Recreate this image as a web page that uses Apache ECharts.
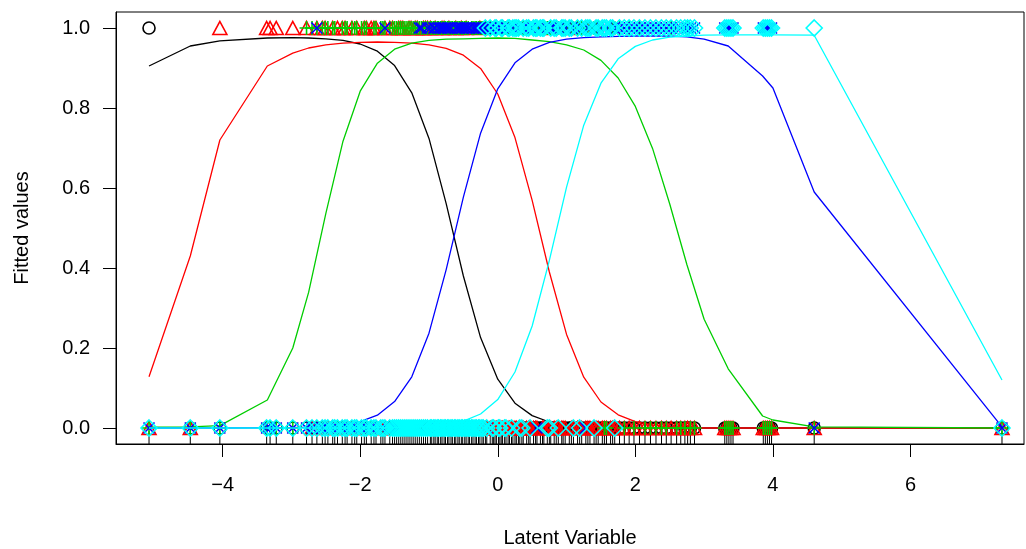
<!DOCTYPE html>
<html>
<head>
<meta charset="utf-8">
<script src="https://cdn.jsdelivr.net/npm/echarts@6/dist/echarts.min.js"></script>
<style>
  html, body { margin: 0; padding: 0; background: #fff; }
  #chart { width: 1026px; height: 549px; }
</style>
</head>
<body>
<div id="chart"></div>
<script>
// observations: latent score and which responses are present (k=black r=red g=green b=blue c=cyan)
var obsX = [
  -5.07, -4.47, -4.04, -3.36, -3.31, -3.22, -2.98, -2.78, -2.70, -2.63,
  -2.55, -2.47, -2.40, -2.33, -2.26, -2.19, -2.12, -2.05, -1.98, -1.91,
  -1.84, -1.77, -1.70, -1.64, -1.57, -1.50, -1.44, -1.38, -1.32, -1.26,
  -1.20, -1.14, -1.08, -1.02, -0.96, -0.91, -0.86, -0.81, -0.76, -0.71,
  -0.66, -0.61, -0.56, -0.51, -0.46, -0.41, -0.36, -0.31, -0.26, -0.21,
  -0.16, -0.11, -0.06, -0.02, 0.03, 0.07, 0.12, 0.17, 0.22, 0.27,
  0.32, 0.37, 0.42, 0.47, 0.52, 0.57, 0.62, 0.67, 0.72, 0.77,
  0.82, 0.88, 0.93, 0.98, 1.04, 1.10, 1.16, 1.22, 1.28, 1.34,
  1.40, 1.46, 1.52, 1.58, 1.64, 1.70, 1.77, 1.84, 1.91, 1.98,
  2.06, 2.14, 2.22, 2.38, 2.45, 2.52, 2.60, 2.72, 2.80, 2.86,
  3.30, 3.36, 3.42, 3.86, 3.92, 3.98, 4.60, 7.33
];
var obsPresent = [
  'k', '', 'r', 'r', 'r', 'r', 'r', 'rg', 'g', 'rgb',
  'rg', 'g', 'rg', 'r', 'rg', 'g', 'rg', 'rg', 'g', 'rg',
  'r', 'rg', 'g', 'rgb', 'rg', 'g', 'rg', 'rg', 'g', 'rg',
  'rg', 'gb', 'rg', 'rgb', 'g', 'rgb', 'gb', 'rgb', 'gb', 'rgb',
  'g', 'rgb', 'gb', 'gb', 'rgb', 'b', 'gb', 'gb', 'rgb', 'gb',
  'g', 'gbc', 'gb', 'gbc', 'gb', 'gbc', 'gb', 'gbc', 'gc', 'gbc',
  'gb', 'gbc', 'gbc', 'gb', 'gbc', 'gc', 'rgbc', 'gbc', 'gb', 'gbc',
  'gbc', 'gb', 'gbc', 'gbc', 'rgbc', 'gb', 'gbc', 'gbc', 'gc', 'gbc',
  'gb', 'gbc', 'gbc', 'bc', 'gbc', 'gb', 'gbc', 'bc', 'gbc', 'bc',
  'gbc', 'bc', 'bc', 'bc', 'bc', 'gbc', 'bc', 'bc', 'bc', 'bc',
  'bc', 'bc', 'bc', 'bc', 'bc', 'bc', 'c', ''
];
// more sites in the crowded middle
var moreX = [
  -2.51, -2.37, -2.22, -2.08, -1.94, -1.80, -1.67, -1.53, -1.47, -1.41,
  -1.35, -1.29, -1.23, -1.17, -1.11, -1.05, -0.98, -0.93, -0.88, -0.83,
  -0.78, -0.73, -0.68, -0.63, -0.58, -0.53, -0.48, -0.43, -0.38, -0.33,
  -0.28, -0.23, -0.18, -0.08, -0.04, 0.01, 0.05, 0.10, 0.15, 0.20,
  0.25, 0.30, 0.35, 0.45, 0.55, 0.65, 0.75, 0.85, 0.95, 1.07,
  1.19, 1.31, 1.43, 1.55, 1.67, 2.30, 2.66, 2.76, 3.33, 3.39,
  3.89, 3.95
];
var morePresent = [
  'rg', 'g', 'rg', 'g', 'rg', 'rg', 'g', 'rg', 'g', 'rg',
  'g', 'rg', 'g', 'rg', 'gb', 'rg', 'rgb', 'gb', 'g', 'gb',
  'rgb', 'gb', 'gb', 'g', 'gb', 'rgb', 'gb', 'gb', 'g', 'gb',
  'gb', 'gb', 'gbc', 'gb', 'gbc', 'gb', 'gbc', 'gb', 'gbc', 'gb',
  'gbc', 'gbc', 'gb', 'gbc', 'gbc', 'gbc', 'gb', 'gbc', 'gbc', 'gbc',
  'gb', 'gbc', 'gbc', 'bc', 'gbc', 'bc', 'bc', 'gbc', 'bc', 'bc',
  'bc', 'bc'
];

// fitted curves, read at these latent values
var curveX = [
  -5.07, -4.47, -4.04, -3.35, -2.98, -2.75, -2.5, -2.25, -2.0, -1.75,
  -1.5, -1.25, -1.0, -0.75, -0.5, -0.25, 0, 0.25, 0.5, 0.75,
  1.0, 1.25, 1.5, 1.75, 2.0, 2.25, 2.5, 2.75, 3.0, 3.35,
  3.85, 4.0, 4.6, 7.33
];
var fitBlack = [
  0.905, 0.955, 0.968, 0.975, 0.976, 0.975, 0.973, 0.969, 0.960, 0.942,
  0.906, 0.838, 0.724, 0.561, 0.380, 0.226, 0.122, 0.062, 0.031, 0.015,
  0.007, 0.004, 0.002, 0.001, 0.001, 0, 0, 0, 0, 0,
  0, 0, 0, 0
];
var fitRed = [
  0.128, 0.430, 0.720, 0.905, 0.937, 0.950, 0.958, 0.962, 0.964, 0.965,
  0.964, 0.962, 0.958, 0.949, 0.932, 0.899, 0.835, 0.726, 0.569, 0.390,
  0.234, 0.127, 0.065, 0.033, 0.016, 0.007, 0.003, 0.001, 0, 0,
  0, 0, 0, 0
];
var fitGreen = [
  0.002, 0.003, 0.006, 0.070, 0.200, 0.339, 0.536, 0.717, 0.842, 0.912,
  0.947, 0.962, 0.969, 0.972, 0.973, 0.974, 0.975, 0.974, 0.970, 0.966,
  0.958, 0.945, 0.919, 0.875, 0.804, 0.699, 0.560, 0.408, 0.272, 0.148,
  0.030, 0.020, 0.003, 0
];
var fitBlue = [
  0, 0, 0, 0.0005, 0.001, 0.002, 0.004, 0.008, 0.016, 0.032,
  0.066, 0.128, 0.237, 0.396, 0.577, 0.737, 0.848, 0.913, 0.947, 0.964,
  0.972, 0.976, 0.978, 0.979, 0.980, 0.980, 0.980, 0.978, 0.972, 0.955,
  0.880, 0.850, 0.590, 0.003
];
var fitCyan = [
  0, 0, 0, 0, 0, 0, 0, 0, 0, 0.001,
  0.001, 0.002, 0.004, 0.008, 0.017, 0.035, 0.071, 0.140, 0.255, 0.419,
  0.602, 0.757, 0.862, 0.923, 0.954, 0.970, 0.977, 0.980, 0.982, 0.983,
  0.983, 0.983, 0.982, 0.120
];

var xTicks = [-4, -2, 0, 2, 4, 6];
var yTicks = [0, 0.2, 0.4, 0.6, 0.8, 1.0];

var FONT = '"Liberation Sans", Arial, Helvetica, sans-serif';

var allX = obsX.concat(moreX);
var allPresent = obsPresent.concat(morePresent);

var groups = [
  { key: 'k', color: '#000000', fit: fitBlack, symbol: 'circle', size: 12 },
  { key: 'r', color: '#FF0000', fit: fitRed, symbol: 'triangle', size: [14, 13] },
  { key: 'g', color: '#00CD00', fit: fitGreen, symbol: 'path://M0,7H14M7,0V14', size: 14 },
  { key: 'b', color: '#0000FF', fit: fitBlue, symbol: 'path://M0,0L10,10M10,0L0,10', size: 11 },
  { key: 'c', color: '#00FFFF', fit: fitCyan, symbol: 'diamond', size: 16 }
];

var series = [];
groups.forEach(function (g, gi) {
  series.push({
    type: 'scatter',
    data: allX.map(function (x, i) { return [x, allPresent[i].indexOf(g.key) >= 0 ? 1 : 0]; }),
    symbol: g.symbol,
    symbolSize: g.size,
    symbolKeepAspect: true,
    itemStyle: { color: 'rgba(0,0,0,0)', borderColor: g.color, borderWidth: 1.6, opacity: 1 },
    z: 2 + gi * 2,
    silent: true
  });
  series.push({
    type: 'line',
    data: curveX.map(function (x, i) { return [x, g.fit[i]]; }),
    showSymbol: false,
    lineStyle: { color: g.color, width: 1.3 },
    z: 3 + gi * 2,
    silent: true
  });
});

// rug along the bottom
series.push({
  type: 'custom',
  data: allX.map(function (x) { return [x, 0]; }),
  renderItem: function (params, api) {
    var p = api.coord([api.value(0), -0.04]);
    return {
      type: 'line',
      shape: { x1: p[0], y1: p[1], x2: p[0], y2: p[1] - 13 },
      style: { stroke: '#000', lineWidth: 1 }
    };
  },
  z: 1,
  silent: true
});

var chart = echarts.init(document.getElementById('chart'));
chart.setOption({
  animation: false,
  backgroundColor: '#fff',
  grid: {
    left: 116, top: 12, width: 908, height: 432,
    outerBoundsMode: 'none', containLabel: false,
    show: true, borderColor: '#000', borderWidth: 1, backgroundColor: 'transparent'
  },
  xAxis: {
    type: 'value', min: -5.55, max: 7.65,
    axisLine: { show: true, onZero: false, lineStyle: { color: '#000', width: 1 } },
    axisTick: { show: true, inside: false, length: 13, customValues: xTicks, lineStyle: { color: '#000' } },
    axisLabel: {
      customValues: xTicks, color: '#000', fontSize: 20, fontFamily: FONT, margin: 31,
      formatter: function (v) { return (v < 0 ? '\u2212' : '') + Math.abs(v); }
    },
    splitLine: { show: false },
    name: 'Latent Variable', nameLocation: 'middle', nameGap: 84,
    nameTextStyle: { color: '#000', fontSize: 20, fontFamily: FONT }
  },
  yAxis: {
    type: 'value', min: -0.04, max: 1.04,
    axisLine: { show: true, onZero: false, lineStyle: { color: '#000', width: 1 } },
    axisTick: { show: true, inside: false, length: 13, customValues: yTicks, lineStyle: { color: '#000' } },
    axisLabel: {
      customValues: yTicks, color: '#000', fontSize: 20, fontFamily: FONT, margin: 26,
      formatter: function (v) { return v.toFixed(1); }
    },
    splitLine: { show: false },
    name: 'Fitted values', nameLocation: 'middle', nameGap: 84,
    nameTextStyle: { color: '#000', fontSize: 20, fontFamily: FONT }
  },
  series: series
});
</script>
</body>
</html>
